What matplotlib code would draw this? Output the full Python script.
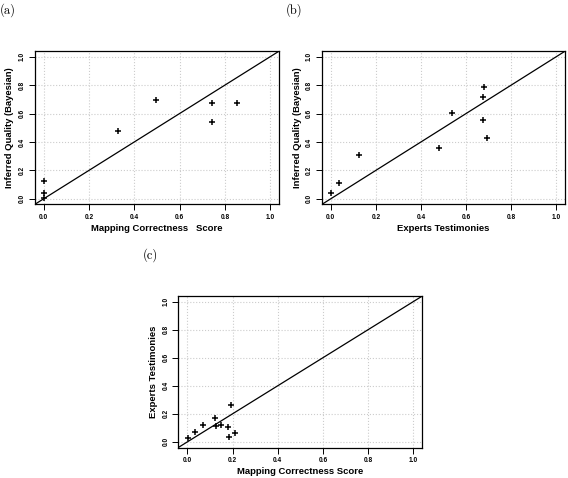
import matplotlib
matplotlib.use("Agg")
import matplotlib.pyplot as plt
import numpy as np

# (a) mapping correctness vs inferred quality
a_x = [0.0, 0.0, 0.0, 0.329, 0.496, 0.745, 0.745, 0.853]
a_y = [0.128, 0.040, 0.006, 0.480, 0.695, 0.676, 0.537, 0.676]

# (b) experts testimonies vs inferred quality
b_x = [0.003, 0.035, 0.127, 0.479, 0.537, 0.676, 0.679, 0.676, 0.692]
b_y = [0.040, 0.109, 0.306, 0.359, 0.606, 0.715, 0.786, 0.554, 0.428]

# (c) mapping correctness vs experts testimonies
c_x = [0.004, 0.033, 0.068, 0.124, 0.127, 0.150, 0.178, 0.183, 0.192, 0.212]
c_y = [0.030, 0.068, 0.120, 0.172, 0.111, 0.120, 0.104, 0.035, 0.262, 0.065]

ticks = [0.0, 0.2, 0.4, 0.6, 0.8, 1.0]
tick_labels = ["0.0", "0.2", "0.4", "0.6", "0.8", "1.0"]

panels = [
    ("(a)", a_x, a_y, "Mapping Correctness   Score", "Inferred Quality (Bayesian)"),
    ("(b)", b_x, b_y, "Experts Testimonies", "Inferred Quality (Bayesian)"),
    ("(c)", c_x, c_y, "Mapping Correctness Score", "Experts Testimonies"),
]
rects = [
    [0.0609, 0.5722, 0.4308, 0.3211],
    [0.5664, 0.5722, 0.4289, 0.3211],
    [0.3139, 0.0638, 0.4296, 0.3169],
]
tag_pos = [(0.0, 0.993), (0.503, 0.993), (0.251, 0.481)]

fig = plt.figure(figsize=(5.68, 4.78), dpi=100)
fam = "Liberation Sans"

for (tag, xs, ys, xl, yl), r, tp in zip(panels, rects, tag_pos):
    ax = fig.add_axes(r)
    ax.set_xlim(-0.04, 1.04)
    ax.set_ylim(-0.04, 1.04)
    ax.grid(True, color="#cccccc", linestyle=":", linewidth=0.8)
    ax.set_axisbelow(True)
    ax.axline((0, 0), (1, 1), color="black", linewidth=0.9)
    ax.plot(xs, ys, "+", color="black", markersize=4.6, markeredgewidth=1.1)
    ax.set_xticks(ticks)
    ax.set_yticks(ticks)
    ax.set_xticklabels(tick_labels, fontsize=4.7, fontweight="bold", family=fam)
    ax.set_yticklabels(tick_labels, fontsize=4.7, fontweight="bold", family=fam,
                       rotation=90, va="center")
    ax.tick_params(length=4, width=0.7, pad=2.5)
    ax.set_xlabel(xl, fontsize=6.8, fontweight="bold", family=fam, labelpad=2.5)
    ax.set_ylabel(yl, fontsize=6.8, fontweight="bold", family=fam, labelpad=3)
    for s in ax.spines.values():
        s.set_linewidth(0.9)
    fig.text(tp[0], tp[1], tag, fontsize=9, family="cmr10", va="top", ha="left")

fig.savefig("out.png", dpi=100)
